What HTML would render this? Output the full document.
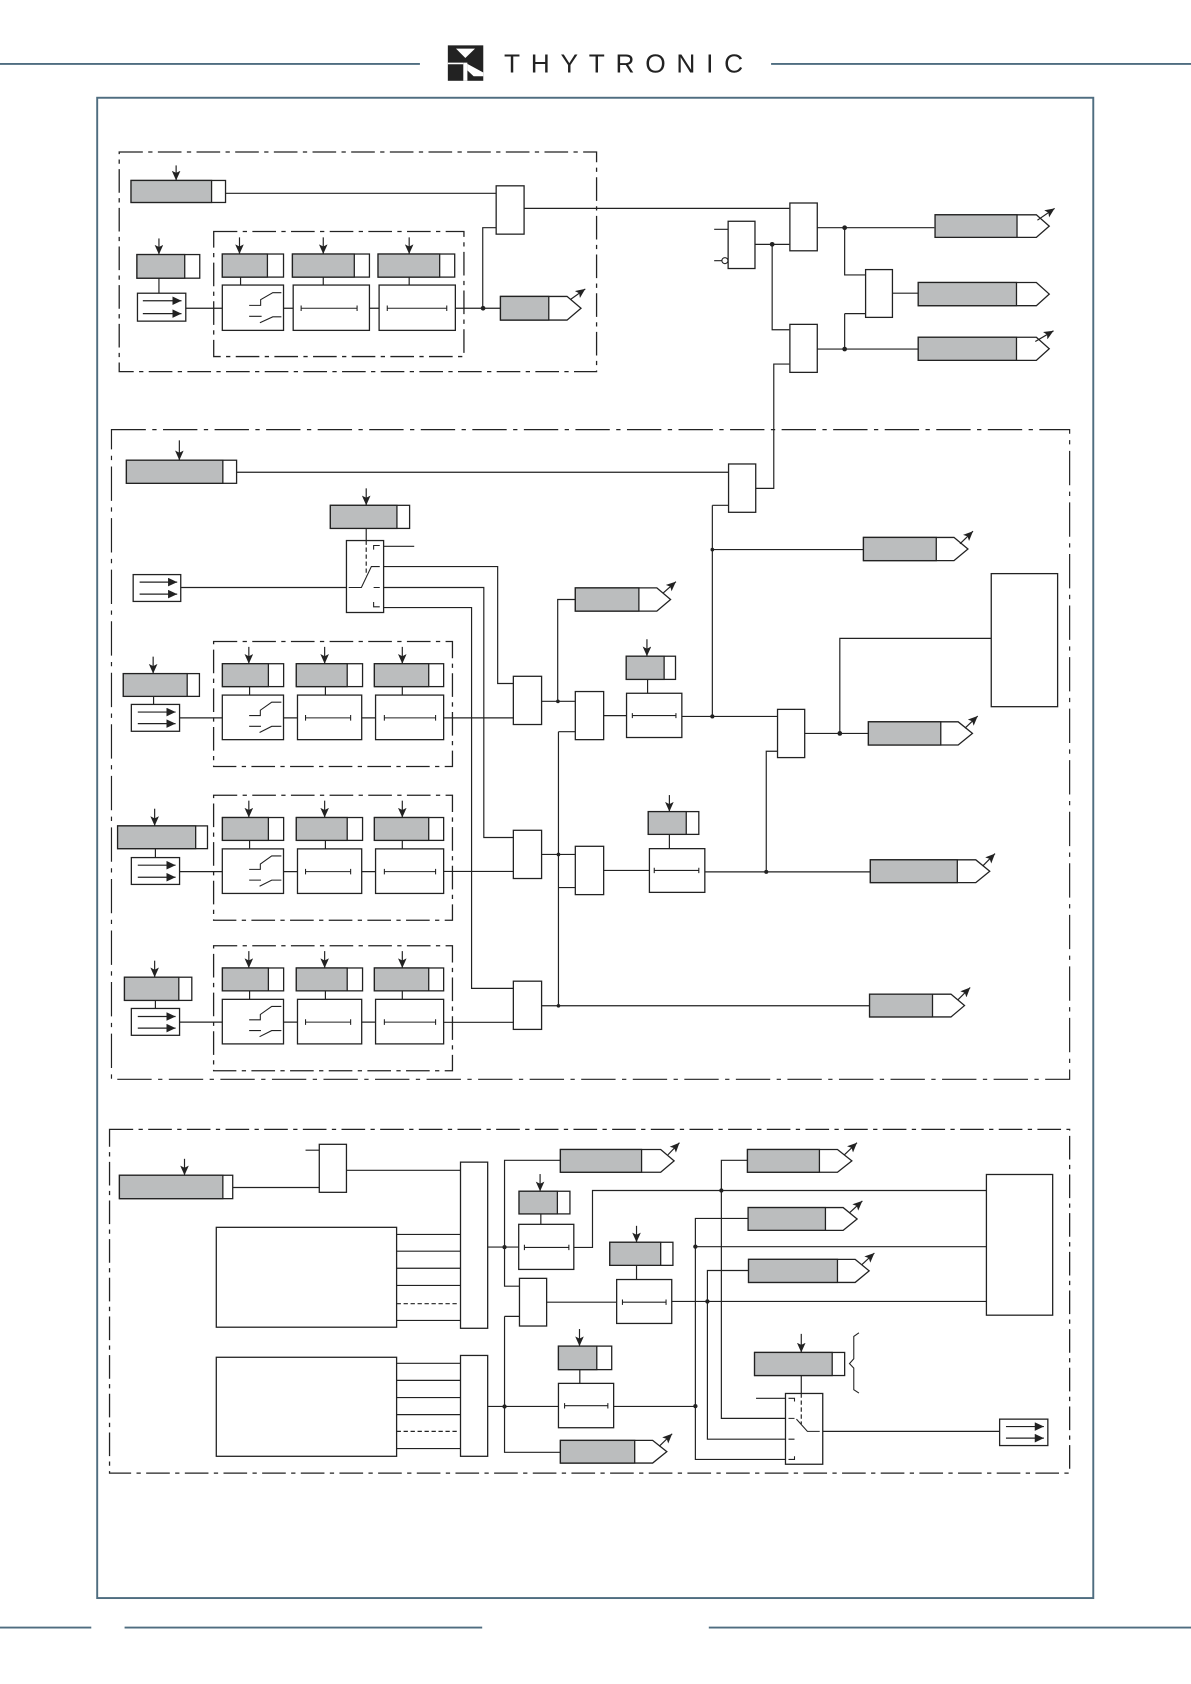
<!DOCTYPE html>
<html>
<head>
<meta charset="utf-8">
<style>
html,body{margin:0;padding:0;background:#fff}
svg{display:block}
.l{fill:none;stroke:#222;stroke-width:1.1}
.t{fill:none;stroke:#222;stroke-width:1}
.d{fill:none;stroke:#222;stroke-width:1.1;stroke-dasharray:4 2.5}
.da{fill:none;stroke:#222;stroke-width:1.1;stroke-dasharray:32 6 4 6}
.db{fill:none;stroke:#222;stroke-width:1.2;stroke-dasharray:22 5 4 5}
.w{fill:#fff;stroke:#222;stroke-width:1.2}
.g{fill:#bbbdbe;stroke:#222;stroke-width:1.2}
.a{fill:none;stroke:#222;stroke-width:1.1;marker-end:url(#ah)}
.b{fill:none;stroke:#222;stroke-width:1.1;marker-end:url(#ab)}
.f{fill:none;stroke:#4f6d80;stroke-width:1.8}
.o{fill:#222}
</style>
</head>
<body>
<svg width="1191" height="1684" viewBox="0 0 1109 1568" xmlns="http://www.w3.org/2000/svg">
<defs>
<marker id="ah" markerUnits="userSpaceOnUse" markerWidth="10" markerHeight="10" refX="9" refY="4" orient="auto"><path d="M0 0L9 4L0 8L2 4Z" fill="#222"/></marker>
<marker id="ab" markerUnits="userSpaceOnUse" markerWidth="10" markerHeight="10" refX="8.5" refY="4" orient="auto"><path d="M0 0L8.5 4L0 8Z" fill="#222"/></marker>
<g id="row">
<rect class="db" x="198.9" y="597.3" width="222.4" height="116.4"/>
<path class="l" d="M167 668.4H207M264 668.4H277M336.8 668.4H349.7M232.4 639.3V647.2M303 639.3V647.2M374.6 639.3V647.2"/>
<rect class="w" x="207.1" y="618" width="57" height="21.3"/><rect class="g" x="207.1" y="618" width="42.8" height="21.3"/>
<rect class="w" x="275.9" y="618" width="61.7" height="21.3"/><rect class="g" x="275.9" y="618" width="47.4" height="21.3"/>
<rect class="w" x="348.6" y="618" width="64.5" height="21.3"/><rect class="g" x="348.6" y="618" width="50.6" height="21.3"/>
<rect class="w" x="207" y="647.2" width="57" height="41.5"/>
<rect class="w" x="277" y="647.2" width="59.8" height="41.5"/>
<rect class="w" x="349.7" y="647.2" width="63.4" height="41.5"/>
<path class="t" d="M284.5 668.4H326.5M284.5 665.8V671M326.5 665.8V671M357.9 668.4H405.6M357.9 665.8V671M405.6 665.8V671"/>
<path class="t" d="M232 666.3H242.4V661.3L253 653.8H262M232 676.3H243M241.7 682L253 676.3H262"/>
<path class="a" d="M231.7 602.3V618"/><path class="a" d="M302.3 602.3V618"/><path class="a" d="M374.6 602.3V618"/>
</g>
</defs>

<!-- header / frame / footer -->
<path class="f" d="M0 59.5H391M718 59.5H1109M0 1515.5H85M116 1515.5H449M660 1515.5H1109"/>
<rect class="f" x="90.5" y="91" width="927.5" height="1397" stroke-width="2"/>
<rect x="417" y="42.2" width="33" height="33" fill="#222"/>
<path d="M424.6 45.3H442.3L433.3 54Z" fill="#fff"/>
<rect x="417" y="58.3" width="14.4" height="1.5" fill="#fff"/>
<rect x="431.4" y="58.3" width="3.8" height="16.9" fill="#fff"/>
<path d="M435.2 59.5L450 67.5V71H441L435.2 65.5Z" fill="#fff"/>
<text x="469.3" y="67.6" font-family="'Liberation Sans',sans-serif" font-size="24.5" fill="#222" textLength="222.7" lengthAdjust="spacing">THYTRONIC</text>

<!-- SECTION 1 -->
<rect class="db" x="111" y="141.5" width="444.5" height="204.5"/>
<rect class="db" x="199" y="215.5" width="233" height="116.5"/>
<path class="l" d="M210 180H462M488 194H735M462 212H449.5V287M148 259V273M173 287H207M264 287H273M344 287H353M424 287H466M224 258V265.4M301 258V265.4M381 258V265.4"/>
<rect class="w" x="122" y="168" width="88" height="20.5"/><rect class="g" x="122" y="168" width="75" height="20.5"/>
<rect class="w" x="462" y="173" width="26" height="45"/>
<rect class="w" x="127.5" y="237" width="58.5" height="22"/><rect class="g" x="127.5" y="237" width="44.5" height="22"/>
<rect class="w" x="128" y="273" width="45" height="26"/>
<path class="b" d="M133 280H169"/><path class="b" d="M133 292H169"/>
<rect class="w" x="207" y="236.5" width="57" height="21.5"/><rect class="g" x="207" y="236.5" width="42" height="21.5"/>
<rect class="w" x="272.3" y="236.5" width="71.7" height="21.5"/><rect class="g" x="272.3" y="236.5" width="57.6" height="21.5"/>
<rect class="w" x="352" y="236.5" width="71.4" height="21.5"/><rect class="g" x="352" y="236.5" width="57.4" height="21.5"/>
<rect class="w" x="207" y="265.4" width="57" height="42.2"/>
<rect class="w" x="273" y="265.4" width="71" height="42.2"/>
<rect class="w" x="353" y="265.4" width="71" height="42.2"/>
<path class="t" d="M280.4 287H332.5M280.4 284.4V289.6M332.5 284.4V289.6M360.6 287H416M360.6 284.4V289.6M416 284.4V289.6"/>
<path class="t" d="M232 284.3H242.7V279L254 272.5H262M232 294.5H243.6M242 300.5L254 295H262"/>
<circle class="o" cx="449.8" cy="287" r="2.2"/>
<path class="a" d="M164 154V168"/><path class="a" d="M148 222V237"/><path class="a" d="M223 221V236.5"/><path class="a" d="M301 221V236.5"/><path class="a" d="M381 221V236.5"/>
<polygon class="w" points="466,276 528,276 541,287 528,298 466,298"/><rect class="g" x="466" y="276" width="45" height="22"/>
<path class="a" d="M531 279L545 269"/>

<!-- right top logic -->
<path class="l" d="M761 212H870M786.5 212V256H806M786.5 292H806M786.5 292V325M761 325H855M831 273H855M703 227.5H735M719 227.5V307H735M735 339H720.5V454.7H703.7M665 213.5H678M665 242.7H672"/>
<rect class="w" x="735.5" y="189" width="25.5" height="44.5"/>
<rect class="w" x="735.5" y="302" width="25.5" height="44.7"/>
<rect class="w" x="806" y="251" width="25" height="44.5"/>
<rect class="w" x="678" y="206" width="25" height="44"/>
<circle cx="675" cy="242.7" r="2.8" fill="#fff" stroke="#222" stroke-width="1"/>
<circle class="o" cx="786.5" cy="212" r="2.2"/><circle class="o" cx="786.5" cy="325" r="2.2"/><circle class="o" cx="719" cy="227.5" r="2.2"/>
<polygon class="w" points="870.7,200 965,200 977,210.5 965,221 870.7,221"/><rect class="g" x="870.7" y="200" width="76.3" height="21"/>
<path class="a" d="M966 205L982 194"/>
<polygon class="w" points="855,263 965,263 977,273.8 965,284.6 855,284.6"/><rect class="g" x="855" y="263" width="91.5" height="21.6"/>
<polygon class="w" points="855,314 965,314 977,324.7 965,335.5 855,335.5"/><rect class="g" x="855" y="314" width="91.5" height="21.5"/>
<path class="a" d="M964 318L981 308"/>

<!-- SECTION 2 -->
<rect class="da" x="103.8" y="400" width="892.2" height="605"/>
<path class="l" d="M220.3 439.7H678.4M663.3 470.5H678.4M663.3 470.5V667.1M663.3 511.7H804M168.3 547H322.6M341 492V503.3M357.2 508.7H385.7M357.2 527.5H463.4V636.4H478M357.2 547H450.5V779.8H478M357.2 565.7H439.1V920.3H478"/>
<path class="l" d="M413.1 668.4H478M413.1 811.4H478M413.1 951.9H478M504.3 653H535.7M519.3 653V558.2H535.7M520 681.3H535.7M520 681.3V936.5M504.3 795.6H535.7M520 826.4H535.7M504.3 936.5H809.7M562.1 666.3H583.5M603 632.6V645.5M634.9 667.1H724M749.3 682.9H808.6M782 682.9V594.4H923M724 699.5H713.5V811.8M562.1 810.5H604.7M656.3 811.8H810.4M623.3 776.9V790.2"/>
<path class="l" d="M143 648.4V655.9M144.7 790.2V798.5M144.7 931.5V939"/>
<rect class="w" x="678.4" y="432" width="25.3" height="45"/>
<rect class="w" x="117.7" y="428.5" width="102.6" height="21.5"/><rect class="g" x="117.7" y="428.5" width="89.8" height="21.5"/>
<path class="a" d="M167 410V428.5"/>
<rect class="w" x="307.6" y="470.5" width="73.8" height="21.5"/><rect class="g" x="307.6" y="470.5" width="62" height="21.5"/>
<path class="a" d="M341 454.7V470.5"/>
<rect class="w" x="322.6" y="503.3" width="34.6" height="67"/>
<path class="d" d="M341 503.3V536" stroke-dasharray="2 1.5"/>
<path class="t" d="M347.9 511.7V507.9H353.6M347.9 527.5H353.6M347.9 547H353.6M347.9 560.5V565H353.6M324.7 547H336.5L345.8 527.5H350"/>
<rect class="w" x="124" y="535" width="44.3" height="25"/>
<path class="b" d="M130 542H165"/><path class="b" d="M130 553.2H165"/>

<use href="#row"/>
<use href="#row" y="143.2"/>
<use href="#row" y="283.3"/>

<rect class="w" x="114.8" y="627.2" width="70.9" height="21.2"/><rect class="g" x="114.8" y="627.2" width="59.5" height="21.2"/>
<rect class="w" x="109.5" y="769" width="83.7" height="21.2"/><rect class="g" x="109.5" y="769" width="72.7" height="21.2"/>
<rect class="w" x="115.9" y="909.9" width="62.7" height="21.6"/><rect class="g" x="115.9" y="909.9" width="50.6" height="21.6"/>
<path class="a" d="M142.6 611.4V627.2"/><path class="a" d="M144 753V769"/><path class="a" d="M144 894.5V909.9"/>
<rect class="w" x="122.3" y="655.9" width="44.9" height="25"/>
<rect class="w" x="122.3" y="798.5" width="44.9" height="25"/>
<rect class="w" x="122.3" y="939" width="44.9" height="25"/>
<path class="b" d="M128.3 663H163.5"/><path class="b" d="M128.3 673.8H163.5"/>
<path class="b" d="M128.3 805.6H163.5"/><path class="b" d="M128.3 816.8H163.5"/>
<path class="b" d="M128.3 946.5H163.5"/><path class="b" d="M128.3 957.3H163.5"/>

<rect class="w" x="478" y="629.7" width="26.3" height="44.9"/>
<rect class="w" x="478" y="773.1" width="26.3" height="44.9"/>
<rect class="w" x="478" y="913.6" width="26.3" height="44.9"/>
<rect class="w" x="535.7" y="643.9" width="26.4" height="44.8"/>
<rect class="w" x="535.7" y="788" width="26.4" height="45"/>
<rect class="w" x="724" y="660.5" width="25.3" height="44.9"/>
<circle class="o" cx="519.5" cy="653" r="1.7"/><circle class="o" cx="520" cy="795.6" r="1.7"/><circle class="o" cx="520" cy="936.5" r="1.7"/>
<circle class="o" cx="663.3" cy="511.7" r="1.7"/><circle class="o" cx="663.3" cy="667.1" r="1.9"/><circle class="o" cx="782" cy="682.9" r="2.2"/><circle class="o" cx="713.5" cy="811.8" r="1.9"/>

<polygon class="w" points="535.7,547.4 611.6,547.4 624.4,558.2 611.6,569 535.7,569"/><rect class="g" x="535.7" y="547.4" width="59.2" height="21.6"/>
<path class="a" d="M617.7 552L629.4 541.6"/>
<polygon class="w" points="804,500.4 888.3,500.4 901.3,511.2 888.3,522 804,522"/><rect class="g" x="804" y="500.4" width="67.8" height="21.6"/>
<path class="a" d="M893.9 506.3L906 494.6"/>
<polygon class="w" points="808.6,672.1 892.2,672.1 905.5,682.9 892.2,693.7 808.6,693.7"/><rect class="g" x="808.6" y="672.1" width="67.4" height="21.6"/>
<path class="a" d="M898.5 678L910.4 666.7"/>
<polygon class="w" points="810.4,800.6 908.6,800.6 921.6,811.2 908.6,821.8 810.4,821.8"/><rect class="g" x="810.4" y="800.6" width="81" height="21.2"/>
<path class="a" d="M915 806.4L926.5 794.8"/>
<polygon class="w" points="809.7,925.7 885.5,925.7 898.1,936.3 885.5,946.9 809.7,946.9"/><rect class="g" x="809.7" y="925.7" width="58.6" height="21.2"/>
<path class="a" d="M892.2 930.7L903.4 919.5"/>
<rect class="w" x="923" y="534.1" width="61.8" height="123.9"/>

<rect class="w" x="583.1" y="611" width="45.9" height="21.6"/><rect class="g" x="583.1" y="611" width="35.3" height="21.6"/>
<path class="a" d="M602.4 595.2V611"/>
<rect class="w" x="583.4" y="645.5" width="51.5" height="41.2"/>
<path class="t" d="M588.8 666.3H629.4M588.8 664V668.6M629.4 664V668.6"/>
<rect class="w" x="603.6" y="755.7" width="47.1" height="21.2"/><rect class="g" x="603.6" y="755.7" width="35.4" height="21.2"/>
<path class="a" d="M623.3 740.3V755.7"/>
<rect class="w" x="604.7" y="790.2" width="51.6" height="40.7"/>
<path class="t" d="M609.2 810.5H650.7M609.2 808V813M650.7 808V813"/>

<!-- SECTION 3 -->
<rect class="db" x="102" y="1051.6" width="894" height="320.1"/>
<path class="l" d="M216.7 1105.7H297.3M284.5 1071H297.3M322.6 1089.7H428.8M369.3 1149.4H428.8M369.3 1165H428.8M369.3 1180.9H428.8M369.3 1196.9H428.8M369.3 1229.5H428.8M369.3 1269.4H428.8M369.3 1285.3H428.8M369.3 1301.3H428.8M369.3 1317.2H428.8M369.3 1348.8H428.8"/>
<path class="d" d="M369.3 1213.9H426M369.3 1332.8H426"/>
<path class="l" d="M454.1 1161.2H483M521.8 1080.4H469.8V1197.6H483.7M469.8 1225.7H483.7M469.8 1225.7V1352.3H521.8M454.1 1309.6H520M503.6 1130.3V1140M534.3 1161.5H551.7V1108.5H918.5M509 1212.5H574.2M592.7 1178.2V1191.4M625.5 1211.8H918.5M539.9 1275.3V1288.1M571.4 1309.6H647.5"/>
<path class="l" d="M696 1080.4H671.7V1320.7H731.4M696.6 1134.5H647.5V1358.9H731.4M647.5 1160.8H918.5M697 1183H658.7V1340.1H731.4"/>
<path class="l" d="M746.1 1280.8V1297.5M704 1302H731.4M766.1 1332.8H930.8"/>

<rect class="w" x="111.2" y="1094.3" width="105.5" height="21.8"/><rect class="g" x="111.2" y="1094.3" width="96.3" height="21.8"/>
<path class="a" d="M171.8 1079V1094.3"/>
<rect class="w" x="297.3" y="1065.5" width="25.3" height="44.7"/>
<rect class="w" x="201.4" y="1142.8" width="167.9" height="93"/>
<rect class="w" x="201.4" y="1263.8" width="167.9" height="92.2"/>
<rect class="w" x="428.8" y="1082.1" width="25.3" height="154.7"/>
<rect class="w" x="428.8" y="1262.1" width="25.3" height="93.9"/>
<circle class="o" cx="469.8" cy="1161.2" r="2"/><circle class="o" cx="469.8" cy="1309.6" r="2"/>

<rect class="w" x="483.3" y="1109.2" width="47.4" height="21.1"/><rect class="g" x="483.3" y="1109.2" width="35.7" height="21.1"/>
<path class="a" d="M502.9 1093.2V1109.2"/>
<rect class="w" x="483" y="1140" width="51.3" height="42"/>
<path class="t" d="M488.3 1161.5H529.7M488.3 1159V1164M529.7 1159V1164"/>
<rect class="w" x="483.7" y="1190.3" width="25.3" height="44.4"/>
<rect class="w" x="567.8" y="1156.7" width="58.8" height="21.5"/><rect class="g" x="567.8" y="1156.7" width="47.4" height="21.5"/>
<path class="a" d="M592.7 1141.4V1156.7"/>
<rect class="w" x="574.2" y="1191.4" width="51.3" height="40.9"/>
<path class="t" d="M579.6 1212.5H620.2M579.6 1210V1215M620.2 1210V1215"/>
<rect class="w" x="520" y="1253.4" width="49.6" height="21.9"/><rect class="g" x="520" y="1253.4" width="35.7" height="21.9"/>
<path class="a" d="M539.6 1237.5V1253.4"/>
<rect class="w" x="520" y="1288.1" width="51.4" height="41.3"/>
<path class="t" d="M525.7 1308.9H566M525.7 1306.5V1311.5M566 1306.5V1311.5"/>

<polygon class="w" points="521.8,1070.3 615.2,1070.3 627.7,1080.9 615.2,1091.5 521.8,1091.5"/><rect class="g" x="521.8" y="1070.3" width="75.6" height="21.2"/>
<path class="a" d="M622 1075.2L632.7 1064"/>
<polygon class="w" points="521.8,1341.2 607.7,1341.2 620.9,1351.7 607.7,1362.3 521.8,1362.3"/><rect class="g" x="521.8" y="1341.2" width="69.2" height="21.1"/>
<path class="a" d="M613.8 1346.7L625.9 1335"/>
<polygon class="w" points="696,1070.3 779.8,1070.3 793.2,1080.9 779.8,1091.5 696,1091.5"/><rect class="g" x="696" y="1070.3" width="67" height="21.2"/>
<path class="a" d="M786 1075.5L798 1064"/>
<polygon class="w" points="696.6,1124.4 785.1,1124.4 798.1,1135 785.1,1145.6 696.6,1145.6"/><rect class="g" x="696.6" y="1124.4" width="72" height="21.2"/>
<path class="a" d="M791 1129.3L803 1118.2"/>
<polygon class="w" points="697,1172.6 796.3,1172.6 809.3,1183.3 796.3,1194.1 697,1194.1"/><rect class="g" x="697" y="1172.6" width="82.8" height="21.5"/>
<path class="a" d="M802.6 1177.5L814.2 1166.7"/>

<circle class="o" cx="671.7" cy="1108.5" r="2"/><circle class="o" cx="647.5" cy="1160.8" r="2"/><circle class="o" cx="658.7" cy="1211.8" r="2"/><circle class="o" cx="647.5" cy="1309.3" r="2"/>
<rect class="w" x="918.5" y="1093.6" width="61.7" height="131"/>

<rect class="w" x="702.6" y="1259.3" width="83.9" height="21.5"/><rect class="g" x="702.6" y="1259.3" width="72.3" height="21.5"/>
<path class="a" d="M746.1 1242V1259.3"/>
<rect class="w" x="731.4" y="1297.5" width="34.7" height="65.9"/>
<path class="d" d="M746.1 1297.5V1326" stroke-dasharray="2.5 1.5"/>
<path class="t" d="M734.2 1302H739.8V1305M734.2 1320.7H739.8M734.2 1340.1H739.8M734.2 1358.9H739.8V1356M741.6 1321.4L751.8 1332.8H763.3"/>
<path class="t" d="M799.8 1241L795 1244.4V1265.2L791 1269.7L795 1273.9V1294L799.8 1297.1"/>
<rect class="w" x="930.8" y="1321.4" width="44.9" height="24.6"/>
<path class="b" d="M936.7 1328.3H972"/><path class="b" d="M936.7 1339.1H972"/>
</svg>
</body>
</html>
